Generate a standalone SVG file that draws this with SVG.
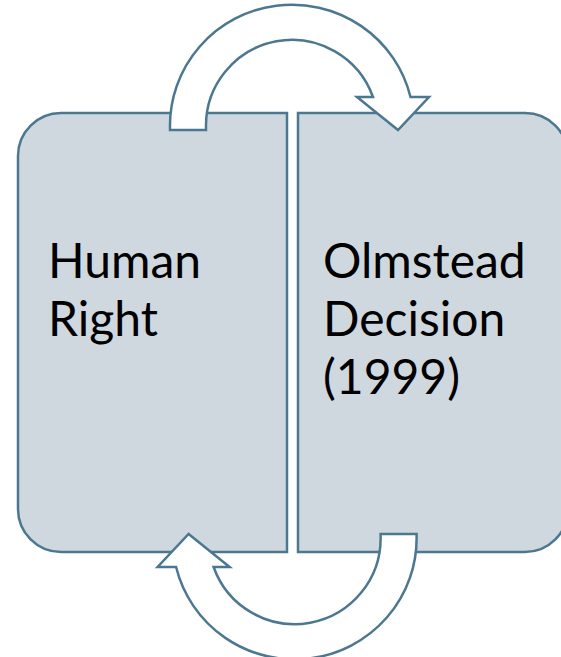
<svg xmlns="http://www.w3.org/2000/svg" width="561" height="657" viewBox="0 0 561 657">
<style>
.box{fill:#CFD8DE;stroke:#4B7890;stroke-width:2.5}
.arrow{fill:#FFFFFF;stroke:#4B7890;stroke-width:2.5;stroke-linejoin:miter}
.lbl{font-family:Lato,"Open Sans",sans-serif;font-size:48px;fill:#000000}
</style>
<rect width="561" height="657" fill="#FFFFFF"/>
<g id="node-human-right">
<path class="box" d="M287,113 L61,113 A43,43 0 0 0 18,156 L18,509 A43,43 0 0 0 61,552 L287,552 Z"/>
<text class="lbl" x="48" y="278">Human</text>
<text class="lbl" x="48" y="336">Right</text>
</g>
<g id="node-olmstead">
<path class="box" d="M298,113 L525,113 A43,43 0 0 1 568,156 L568,509 A43,43 0 0 1 525,552 L298,552 Z"/>
<text class="lbl" x="323" y="278">Olmstead</text>
<text class="lbl" x="323" y="336">Decision</text>
<text class="lbl" x="323" y="394">(1999)</text>
</g>
<g id="connectors">
<path id="arrow-top" class="arrow" d="M170,130 L170,128 A122,121 0 0 1 410.5,97 L429,97 L398,130 L357,97 L373,97 A86,86 0 0 0 206,128 L206,130 Z"/>
<path id="arrow-bottom" class="arrow" transform="rotate(180 293.3 332)" d="M170,130 L170,128 A122,121 0 0 1 410.5,97 L429,97 L398,130 L357,97 L373,97 A86,86 0 0 0 206,128 L206,130 Z"/>
</g>
</svg>
